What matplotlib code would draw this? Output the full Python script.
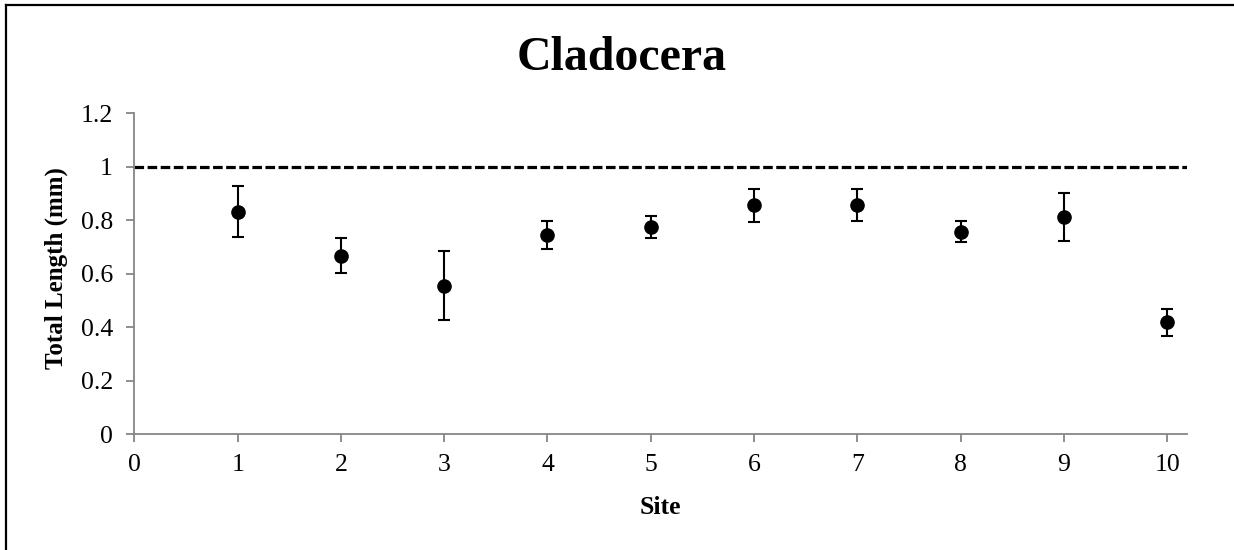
import matplotlib
matplotlib.use('Agg')
import matplotlib.pyplot as plt
from matplotlib.lines import Line2D

plt.rcParams['font.family'] = ['Liberation Serif', 'DejaVu Serif']

sites = [1, 2, 3, 4, 5, 6, 7, 8, 9, 10]
mean_length = [0.832, 0.668, 0.556, 0.745, 0.774, 0.856, 0.858, 0.757, 0.812, 0.419]
err_length = [0.095, 0.065, 0.129, 0.052, 0.041, 0.061, 0.059, 0.040, 0.090, 0.050]
ref_length = 1.0

axis_grey = '#868686'

fig = plt.figure(figsize=(12.34, 5.5), dpi=100)
ax = fig.add_axes([0.1089, 0.2104, 0.8528, 0.5836])

ax.axhline(ref_length, color='black', lw=2.3, ls=(0, (3.0, 1.1)), zorder=1)
ax.errorbar(sites, mean_length, yerr=err_length, fmt='o', color='black',
            markersize=9.5, elinewidth=1.5, capsize=4.5, capthick=1.5, zorder=3)

ax.set_xlim(0, 10.19)
ax.set_ylim(0, 1.2)
ax.set_xticks(range(0, 11))
ax.set_yticks([0, 0.2, 0.4, 0.6, 0.8, 1.0, 1.2])
ax.set_yticklabels(['0', '0.2', '0.4', '0.6', '0.8', '1', '1.2'])

for side in ['top', 'right']:
    ax.spines[side].set_visible(False)
for side in ['left', 'bottom']:
    ax.spines[side].set_color(axis_grey)
    ax.spines[side].set_linewidth(1.3)

ax.tick_params(axis='both', direction='out', color=axis_grey, width=1.3,
               length=5.5, labelsize=18.5, labelcolor='black')
ax.tick_params(axis='y', pad=10)
ax.tick_params(axis='x', pad=9)

fig.text(622 / 1234, 0.894, 'Cladocera', ha='center', va='center',
         fontsize=34.5, fontweight='bold')
fig.text(0.535, 1 - 507 / 550, 'Site', ha='center', va='center',
         fontsize=18.5, fontweight='bold')
fig.text(56 / 1234, 1 - 268 / 550, 'Total Length (mm)', ha='center', va='center',
         rotation=90, fontsize=18, fontweight='bold')

# frame on the left and top edges
fig.add_artist(Line2D([6 / 1234, 6 / 1234], [0, 1 - 5 / 550], color='black',
                      lw=1.6, transform=fig.transFigure))
fig.add_artist(Line2D([6 / 1234, 1], [1 - 5 / 550, 1 - 5 / 550], color='black',
                      lw=1.6, transform=fig.transFigure))

fig.savefig('out.png', dpi=100)
